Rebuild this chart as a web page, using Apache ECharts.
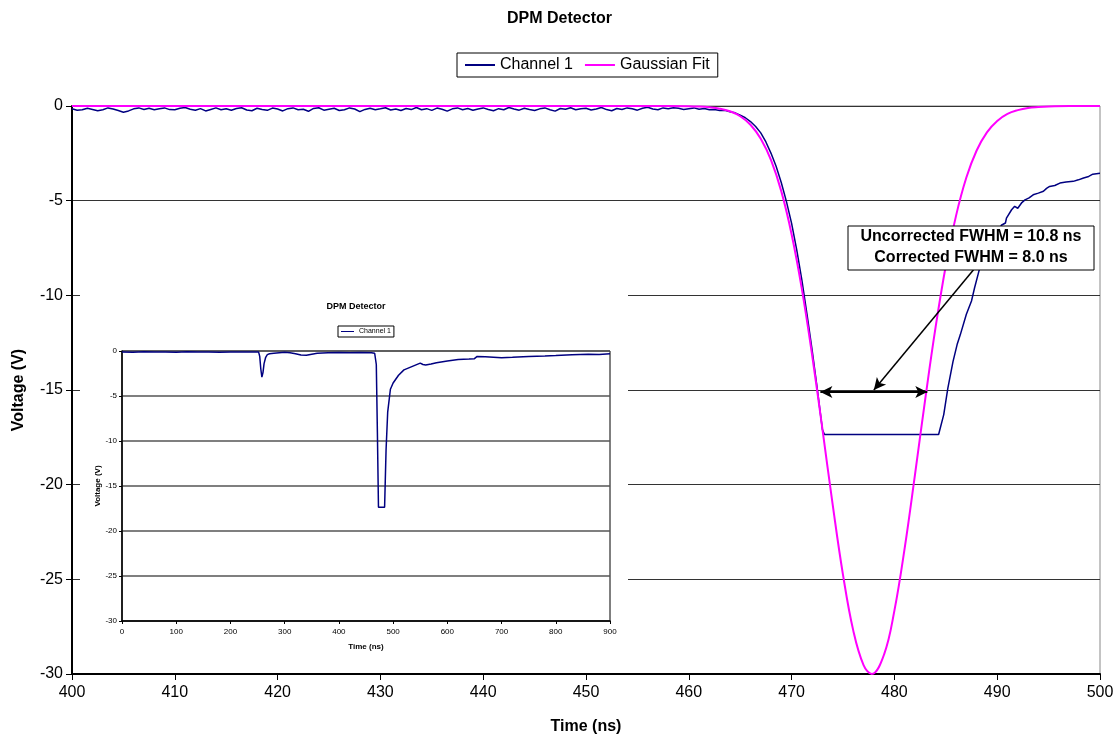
<!DOCTYPE html>
<html>
<head>
<meta charset="utf-8">
<script src="https://cdn.jsdelivr.net/npm/echarts@6/dist/echarts.min.js"></script>
<style>
html, body { margin: 0; padding: 0; background: #fff; }
#chart { width: 1119px; height: 740px; }
</style>
</head>
<body>
<div id="chart"></div>
<script>
// Channel 1 baseline, sampled every 0.5 ns from 400 ns
var baseStart = 400, baseStep = 0.5;
var ch1Base = [
  -0.15, -0.22, -0.2, -0.12, -0.18, -0.25, -0.2, -0.1, -0.16, -0.24,
  -0.33, -0.26, -0.15, -0.1, -0.18, -0.12, -0.2, -0.14, -0.1, -0.19,
  -0.2, -0.12, -0.08, -0.17, -0.22, -0.14, -0.26, -0.18, -0.1, -0.2,
  -0.15, -0.22, -0.13, -0.09, -0.21, -0.25, -0.12, -0.18, -0.23, -0.11,
  -0.16, -0.26, -0.14, -0.1, -0.2, -0.17, -0.28, -0.13, -0.09, -0.22,
  -0.17, -0.12, -0.24, -0.2, -0.1, -0.16, -0.3, -0.18, -0.12, -0.2,
  -0.15, -0.09, -0.21, -0.16, -0.24, -0.13, -0.19, -0.08, -0.2, -0.14,
  -0.23, -0.11, -0.17, -0.27, -0.15, -0.1, -0.2, -0.13, -0.22, -0.16,
  -0.1, -0.18, -0.25, -0.14, -0.2, -0.08, -0.16, -0.22, -0.12, -0.19,
  -0.24, -0.15, -0.1, -0.2, -0.27, -0.13, -0.17, -0.09, -0.2, -0.14,
  -0.12, -0.21, -0.16, -0.08, -0.19, -0.25, -0.13, -0.18, -0.1, -0.15,
  -0.22, -0.12, -0.07, -0.16, -0.2, -0.1, -0.14, -0.09
];
// Channel 1 pulse (ns, V)
var ch1PulseT = [459, 459.5, 460, 460.5, 461, 461.5, 462, 462.5, 463, 463.5, 464, 464.5, 465, 465.5, 466, 466.5,
  467, 467.5, 468, 468.5, 469, 469.5, 470, 470.5, 471, 471.5, 472, 472.5, 473, 473.2, 484.3, 484.8, 485.2, 485.7,
  486.1, 486.4, 487, 487.5, 487.8, 488.3, 488.9, 489.3, 489.9, 490.4, 490.8, 490.9, 491.4, 491.7, 492, 492.4, 492.7,
  493.1, 493.5, 494, 494.5, 494.8, 495.1, 495.6, 496.1, 496.7, 497.4, 497.9, 498.4, 498.9, 499.3, 500];
var ch1PulseV = [-0.12, -0.18, -0.14, -0.1, -0.17, -0.13, -0.2, -0.18, -0.24, -0.22, -0.3, -0.36, -0.48, -0.62, -0.82, -1.08,
  -1.42, -1.9, -2.5, -3.2, -4.05, -5.05, -6.2, -7.6, -9.2, -11.0, -12.9, -14.95, -17.1, -17.35, -17.35, -16.3, -14.9, -13.5,
  -12.6, -12.1, -11.0, -10.3, -9.6, -8.56, -7.5, -7.0, -6.8, -6.3, -6.18, -5.92, -5.48, -5.3, -5.4, -5.1, -4.96,
  -4.85, -4.69, -4.6, -4.5, -4.35, -4.25, -4.2, -4.07, -4.02, -3.98, -3.9, -3.8, -3.72, -3.6, -3.55];
// Gaussian fit (ns, V)
var gaussT = [400, 455, 458, 460, 461, 462, 463, 464, 465, 466, 467, 468, 469, 470, 471, 472, 473, 474, 475, 476, 477,
  477.8, 479, 480, 481, 482, 483, 484, 485, 486, 487, 488, 489, 490, 491, 492, 493, 494, 495, 497, 500];
var gaussV = [0, 0, 0, -0.01, -0.03, -0.07, -0.14, -0.28, -0.54, -0.99, -1.73, -2.86, -4.51, -6.77, -9.67, -13.17, -17.07, -21.07, -24.76, -27.71, -29.53,
  -30, -28.96, -26.65, -23.35, -19.48, -15.48, -11.71, -8.44, -5.79, -3.78, -2.35, -1.39, -0.79, -0.42, -0.22, -0.1, -0.05, -0.02, 0, 0];
// inset: full Channel 1 trace (ns, V)
var insetT = [0, 20, 40, 60, 80, 100, 120, 140, 160, 180, 200, 220, 240, 252, 254, 256, 258, 260, 262, 265, 268, 272, 280, 290,
  300, 310, 320, 330, 340, 350, 360, 380, 400, 420, 440, 460, 466, 469, 471, 473, 484.3, 487, 490, 495, 500, 510, 520, 530,
  540, 550, 555, 560, 570, 580, 600, 620, 640, 650, 655, 670, 700, 720, 750, 780, 800, 830, 860, 880, 900];
var insetV = [-0.1, -0.15, -0.08, -0.12, -0.1, -0.14, -0.09, -0.12, -0.1, -0.13, -0.1, -0.12, -0.1, -0.12, -0.6, -2.0, -2.9, -2.4, -1.4, -0.7, -0.4, -0.3, -0.25, -0.2,
  -0.15, -0.2, -0.3, -0.45, -0.48, -0.35, -0.25, -0.2, -0.18, -0.2, -0.17, -0.2, -0.25, -1.5, -9, -17.35, -17.35, -11, -6.8, -4.25, -3.55, -2.7, -2.1, -1.85,
  -1.6, -1.35, -1.5, -1.55, -1.45, -1.3, -1.1, -0.95, -0.9, -0.85, -0.6, -0.65, -0.75, -0.7, -0.6, -0.55, -0.5, -0.42, -0.35, -0.38, -0.3];

var ch1Data = [];
ch1Base.forEach(function (v, i) { ch1Data.push([baseStart + i * baseStep, v]); });
ch1PulseT.forEach(function (t, i) { ch1Data.push([t, ch1PulseV[i]]); });
var gaussData = gaussT.map(function (t, i) { return [t, gaussV[i]]; });
var insetData = insetT.map(function (t, i) { return [t, insetV[i]]; });

var font = 'Liberation Sans, Arial, sans-serif';
var chart = echarts.init(document.getElementById('chart'));
var option = {
  backgroundColor: '#fff',
  textStyle: { fontFamily: font },
  animation: false,
  title: [
    { text: 'DPM Detector', left: 'center', top: 6, textStyle: { fontSize: 16, fontWeight: 'bold', color: '#000', fontFamily: font } },
    { text: 'DPM Detector', left: 356, top: 302, textAlign: 'center', z: 60, padding: 0,
      textStyle: { fontSize: 9, fontWeight: 'bold', color: '#000', fontFamily: font } }
  ],
  legend: [
    {
      data: ['Channel 1', 'Gaussian Fit'], left: 457, top: 53, padding: [4, 8], itemGap: 12,
      icon: 'rect', itemWidth: 30, itemHeight: 2, borderColor: '#000', borderWidth: 1,
      textStyle: { fontSize: 16, color: '#000', fontFamily: font }
    },
    {
      data: ['Channel 1'], left: 338, top: 326, padding: [2, 3], itemWidth: 13, itemHeight: 1, icon: 'rect', z: 60,
      borderColor: '#000', borderWidth: 1, textStyle: { fontSize: 7, color: '#000', fontFamily: font }
    }
  ],
  grid: [
    { left: 72, right: 19, top: 106, bottom: 65, show: true, borderColor: '#888', borderWidth: 1 },
    { left: 122, top: 351, width: 488, height: 270, show: true, borderColor: '#000', borderWidth: 1, z: 60 }
  ],
  xAxis: [
    {
      type: 'value', gridIndex: 0, min: 400, max: 500, interval: 10,
      name: 'Time (ns)', nameLocation: 'middle', nameGap: 45,
      nameTextStyle: { fontSize: 16, fontWeight: 'bold', color: '#000', fontFamily: font },
      axisLine: { show: true, onZero: false, lineStyle: { color: '#000', width: 2 } },
      axisTick: { show: true, length: 6, lineStyle: { color: '#000' } },
      axisLabel: { fontSize: 16, color: '#000', margin: 11, fontFamily: font },
      splitLine: { show: false }
    },
    {
      type: 'value', gridIndex: 1, min: 0, max: 900, interval: 100, z: 60,
      name: 'Time (ns)', nameLocation: 'middle', nameGap: 22,
      nameTextStyle: { fontSize: 8, fontWeight: 'bold', color: '#000', fontFamily: font },
      axisLine: { show: true, onZero: false, lineStyle: { color: '#000', width: 1.5 } },
      axisTick: { show: true, length: 3, lineStyle: { color: '#000' } },
      axisLabel: { fontSize: 8, color: '#000', margin: 7, fontFamily: font },
      splitLine: { show: false }
    }
  ],
  yAxis: [
    {
      type: 'value', gridIndex: 0, min: -30, max: 0, interval: 5,
      name: 'Voltage (V)', nameLocation: 'middle', nameGap: 45, nameRotate: 90,
      nameTextStyle: { fontSize: 16, fontWeight: 'bold', color: '#000', fontFamily: font },
      axisLine: { show: true, onZero: false, lineStyle: { color: '#000', width: 2 } },
      axisTick: { show: true, length: 6, lineStyle: { color: '#000' } },
      axisLabel: { fontSize: 16, color: '#000', margin: 9, fontFamily: font },
      splitLine: { show: true, lineStyle: { color: '#333', width: 1 } }
    },
    {
      type: 'value', gridIndex: 1, min: -30, max: 0, interval: 5, z: 60,
      name: 'Voltage (V)', nameLocation: 'middle', nameGap: 20, nameRotate: 90,
      nameTextStyle: { fontSize: 8, fontWeight: 'bold', color: '#000', fontFamily: font },
      axisLine: { show: true, onZero: false, lineStyle: { color: '#000', width: 1.5 } },
      axisTick: { show: true, length: 3, lineStyle: { color: '#000' } },
      axisLabel: { fontSize: 8, color: '#000', margin: 5, fontFamily: font },
      splitLine: { show: true, lineStyle: { color: '#555', width: 1.5 } }
    }
  ],
  graphic: [
    // white panel holding the inset chart
    { type: 'rect', shape: { x: 80, y: 287, width: 548, height: 368 }, style: { fill: '#fff' }, z: 50 },
    // FWHM note
    { type: 'rect', shape: { x: 848, y: 226, width: 246, height: 44 }, style: { fill: '#fff', stroke: '#000', lineWidth: 1 }, z: 40 },
    { type: 'text', x: 971, y: 237, z: 41,
      style: { text: 'Uncorrected FWHM = 10.8 ns', fill: '#000', font: 'bold 16px ' + font, textAlign: 'center', textVerticalAlign: 'middle' } },
    { type: 'text', x: 971, y: 258, z: 41,
      style: { text: 'Corrected FWHM = 8.0 ns', fill: '#000', font: 'bold 16px ' + font, textAlign: 'center', textVerticalAlign: 'middle' } }
  ],
  series: [
    {
      name: 'Channel 1', type: 'line', xAxisIndex: 0, yAxisIndex: 0, data: ch1Data,
      symbol: 'none', lineStyle: { color: '#000080', width: 1.5 }, itemStyle: { color: '#000080' }, z: 3
    },
    {
      name: 'Gaussian Fit', type: 'line', xAxisIndex: 0, yAxisIndex: 0, data: gaussData, smooth: 0.4,
      symbol: 'none', lineStyle: { color: '#ff00ff', width: 2 }, itemStyle: { color: '#ff00ff' }, z: 4,
      markLine: {
        silent: true, animation: false, label: { show: false },
        lineStyle: { color: '#000', width: 2, type: 'solid' },
        data: [
          [{ coord: [472.8, -15.1], symbol: 'arrow' }, { coord: [483.2, -15.1], symbol: 'arrow' }],
          [{ coord: [487.7, -8.65], symbol: 'none', lineStyle: { width: 1.5 } }, { coord: [478, -15.0], symbol: 'arrow' }]
        ],
        symbolSize: [9, 12]
      }
    },
    {
      name: 'Channel 1', type: 'line', xAxisIndex: 1, yAxisIndex: 1, data: insetData,
      symbol: 'none', lineStyle: { color: '#000080', width: 1.5 }, itemStyle: { color: '#000080' }, z: 60
    }
  ]
};
chart.setOption(option);
window.addEventListener('resize', function () { chart.resize(); });
</script>
</body>
</html>
